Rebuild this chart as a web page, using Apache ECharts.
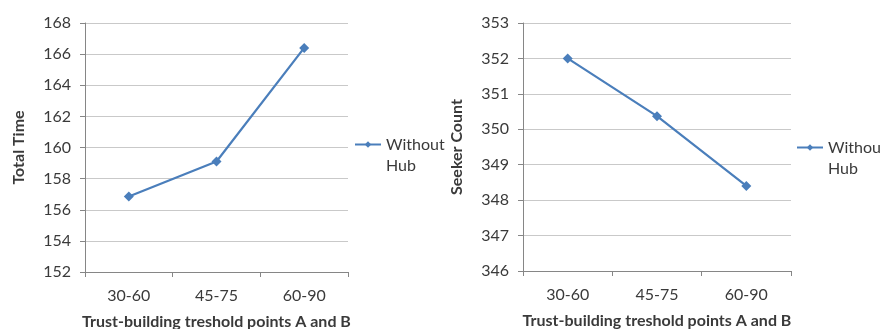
<!DOCTYPE html>
<html>
<head>
<meta charset="utf-8">
<script src="https://cdn.jsdelivr.net/npm/echarts@6/dist/echarts.min.js"></script>
<style>
  html, body { margin: 0; padding: 0; background: #fff; }
  #chart { width: 881px; height: 329px; }
</style>
</head>
<body>
<div id="chart"></div>
<script>
// Threshold pairs on the x axis (shared by both panels)
const categories = ['30-60', '45-75', '60-90'];
const seriesName = 'Without Hub';

// Left panel: total time
const totalTime = [156.85, 159.1, 166.4];
// Right panel: seeker count
const seekerCount = [352.0, 350.37, 348.4];

const xAxisTitle = 'Trust-building treshold points A and B';
const leftYTitle = 'Total Time';
const rightYTitle = 'Seeker Count';

const FONT = 'Lato, "Open Sans", sans-serif';
const TEXT = '#3a3a3a';
const LINE = '#4a7ebb';
const AXIS = '#868686';
const GRID = '#c9c9c9';

function makeX(gridIndex) {
  return {
    type: 'category', gridIndex, data: categories, boundaryGap: true,
    axisLine: { lineStyle: { color: AXIS, width: 1 } },
    axisTick: { show: true, length: 5, lineStyle: { color: AXIS } },
    axisLabel: { color: TEXT, fontFamily: FONT, fontSize: 16, margin: 16 },
    name: xAxisTitle, nameLocation: 'middle', nameGap: 42,
    nameTextStyle: { color: TEXT, fontFamily: FONT, fontSize: 16, fontWeight: 'bold' }
  };
}
function makeY(gridIndex, min, max, title) {
  return {
    type: 'value', gridIndex, min, max, interval: gridIndex === 0 ? 2 : 1,
    axisLine: { show: true, lineStyle: { color: AXIS, width: 1 } },
    axisTick: { show: true, length: 5, lineStyle: { color: AXIS } },
    axisLabel: { color: TEXT, fontFamily: FONT, fontSize: 16, margin: 14 },
    splitLine: { show: true, lineStyle: { color: GRID, width: 1 } },
    name: title, nameLocation: 'middle', nameRotate: 90, nameGap: 58,
    nameTextStyle: { color: TEXT, fontFamily: FONT, fontSize: 16, fontWeight: 'bold' }
  };
}
// Legend text is split over two lines; a leading blank line keeps the
// icon level with the first word.
function makeLegend(left, top) {
  return {
    data: [seriesName], left, top, orient: 'vertical', padding: 0,
    itemWidth: 26, itemHeight: 8, itemGap: 0, selectedMode: false,
    formatter: (n) => '\u00a0\n' + n.replace(' ', '\n'),
    textStyle: { color: TEXT, fontFamily: FONT, fontSize: 16, lineHeight: 21 }
  };
}
function makeSeries(idx, values) {
  return {
    name: seriesName, type: 'line', xAxisIndex: idx, yAxisIndex: idx,
    data: values, symbol: 'diamond', symbolSize: 10,
    lineStyle: { color: LINE, width: 2.2 },
    itemStyle: { color: LINE },
    animation: false
  };
}

const chart = echarts.init(document.getElementById('chart'));
chart.setOption({
  backgroundColor: '#fff',
  animation: false,
  grid: [
    { left: 85, top: 23, width: 263, height: 249, outerBoundsMode: 'none' },
    { left: 523, top: 23, width: 268, height: 248, outerBoundsMode: 'none' }
  ],
  xAxis: [makeX(0), makeX(1)],
  yAxis: [makeY(0, 152, 168, leftYTitle), makeY(1, 346, 353, rightYTitle)],
  legend: [makeLegend(354, 113), makeLegend(796, 116)],
  series: [makeSeries(0, totalTime), makeSeries(1, seekerCount)]
});
</script>
</body>
</html>
